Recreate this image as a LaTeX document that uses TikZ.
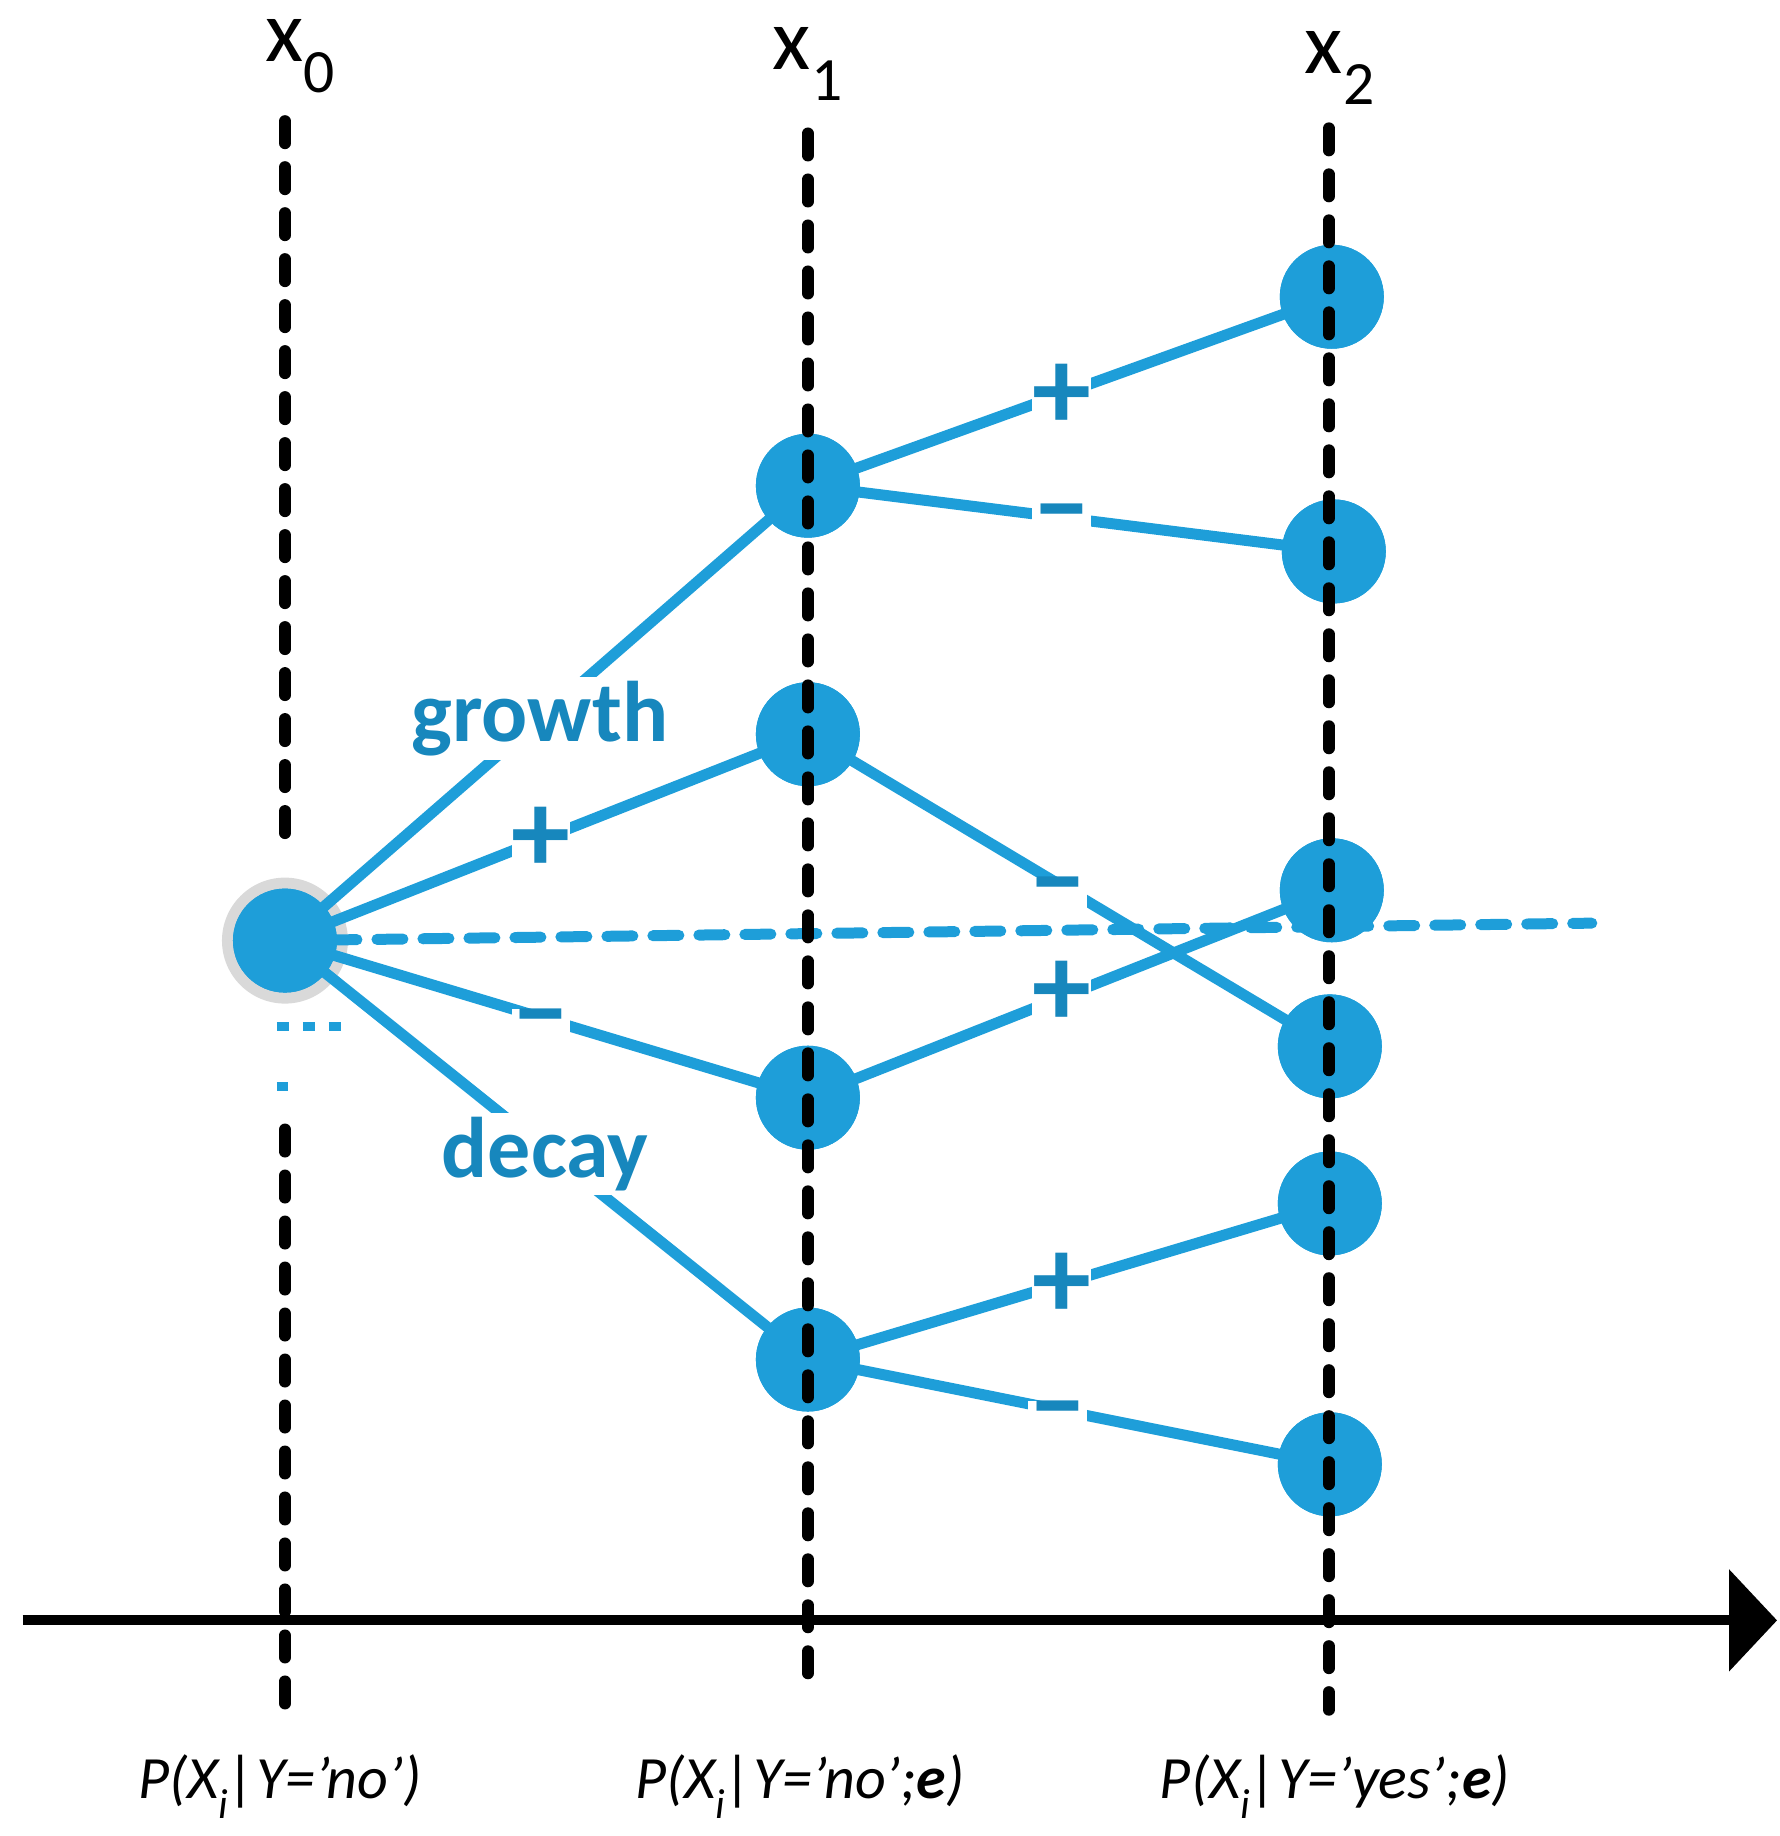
\documentclass[tikz,border=0pt]{standalone}
\usepackage{fontspec}
\setmainfont{Carlito}
\usetikzlibrary{arrows.meta}
\begin{document}
\begin{tikzpicture}[x=1pt,y=-1.027pt,
  conn/.style={line width=11pt,draw=cblue},
  nd/.style={circle,fill=cblue,minimum size=104pt,inner sep=0},
  vline/.style={line width=12pt,line cap=round,dash pattern=on 22pt off 24pt},
  sign/.style={fill=white,text=dblue,font=\fontsize{118}{118}\selectfont\bfseries,inner sep=0pt},
  word/.style={fill=white,text=dblue,font=\fontsize{86}{86}\selectfont\bfseries,inner sep=4pt},
  head/.style={font=\fontsize{88}{88}\selectfont},
  foot/.style={font=\fontsize{60}{60}\selectfont\itshape}]
\definecolor{cblue}{HTML}{1E9ED9}
\definecolor{dblue}{HTML}{1787BD}
\useasboundingbox (0,0) rectangle (1780,1788);
% nodes
\node[circle,fill=gray!30,minimum size=126pt,inner sep=0] (ring) at (285,916) {};
\node[nd] (r) at (285,916) {};
\node[nd] (a1) at (808,473) {};
\node[nd] (a2) at (808,715) {};
\node[nd] (a3) at (808,1069) {};
\node[nd] (a4) at (808,1324) {};
\node[nd] (b1) at (1332,289) {};
\node[nd] (b2) at (1334,537) {};
\node[nd] (b3) at (1332,867) {};
\node[nd] (b4) at (1330,1019) {};
\node[nd] (b5) at (1330,1172) {};
\node[nd] (b6) at (1330,1426) {};
\coordinate (hend) at (1592,899);
% connectors
\draw[conn] (r.center) -- (a1.center);
\draw[conn] (r.center) -- (a2.center);
\draw[conn] (r.center) -- (a3.center);
\draw[conn] (r.center) -- (a4.center);
\draw[line width=11pt,draw=cblue,line cap=round,dash pattern=on 26pt off 20pt] (r.center) -- (hend);
\draw[conn] (a1.center) -- (b1.center);
\draw[conn] (a1.center) -- (b2.center);
\draw[conn] (a2.center) -- (b4.center);
\draw[conn] (a3.center) -- (b3.center);
\draw[conn] (a4.center) -- (b5.center);
\draw[conn] (a4.center) -- (b6.center);
\node[nd] at (r) {};
\node[nd] at (a1) {};\node[nd] at (a2) {};\node[nd] at (a3) {};\node[nd] at (a4) {};
\node[nd] at (b1) {};\node[nd] at (b2) {};\node[nd] at (b3) {};\node[nd] at (b4) {};\node[nd] at (b5) {};\node[nd] at (b6) {};
% labels on connectors
\node[word] (gw) at (540,700) {growth};
\node[word] (dc) at (545,1124) {decay};
\node[sign] (p1) at (1062,386) {+};
\node[sign] (p2) at (541,818) {+};
\node[sign] (p3) at (1062,968) {+};
\node[sign] (p4) at (1062,1252) {+};
\node[sign] (m1) at (1062,510) {–};
\node[sign] (m2) at (541,1001) {–};
\node[sign] (m3) at (1058,873) {–};
\node[sign] (m4) at (1058,1383) {–};
% small blue dotted bits
\draw[line width=9pt,draw=cblue,dash pattern=on 12pt off 14pt] (277,1000) -- (342,1000);
\draw[line width=9pt,draw=cblue] (277,1058) -- (288,1058);
% vertical lines
\draw[vline] (285,118) -- (285,820);
\draw[vline] (285,1100) -- (285,1660);
\draw[vline] (808,130) -- (808,1650);
\draw[vline] (1329,125) -- (1329,1665);
% axis
\node[inner sep=0] (t0) at (22,1578) {};
\node[inner sep=0] (t1) at (1778,1578) {};
\draw[line width=10pt,-{Triangle[length=48pt,width=100pt]}] (t0) -- (t1);
% headings
\node[head] (h0) at (300,55) {x\textsubscript{0}};
\node[head] (h1) at (808,62) {x\textsubscript{1}};
\node[head] (h2) at (1340,66) {x\textsubscript{2}};
\node[foot] (f0) at (280,1740) {P(X\textsubscript{\textit{i}}|Y=’no’)};
\node[foot] (f1) at (800,1740) {P(X\textsubscript{\textit{i}}|Y=’no’;\textbf{e})};
\node[foot] (f2) at (1335,1740) {P(X\textsubscript{\textit{i}}|Y=’yes’;\textbf{e})};
\end{tikzpicture}
\end{document}
